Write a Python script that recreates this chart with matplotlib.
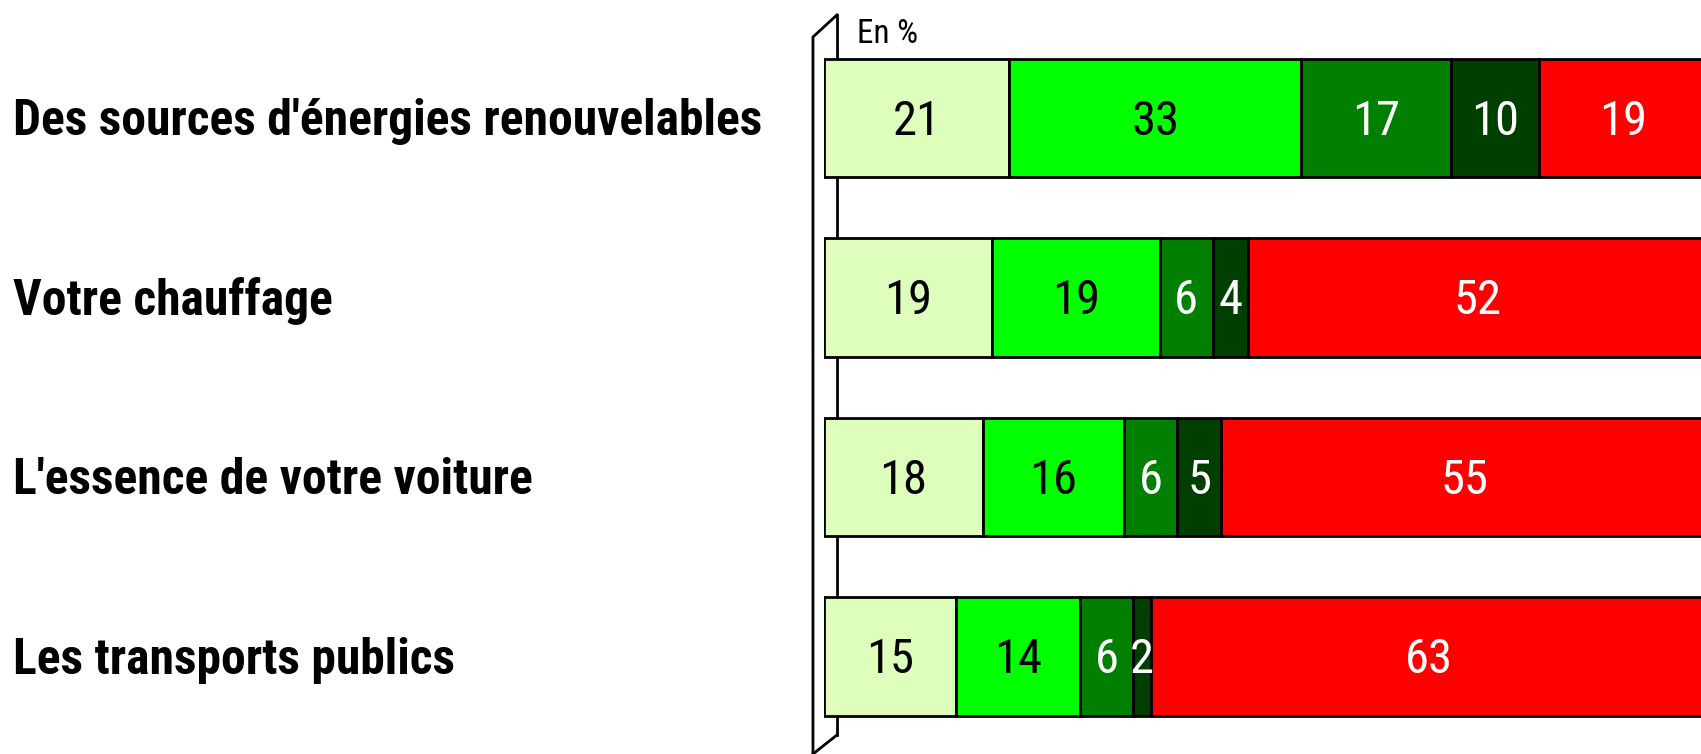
import matplotlib.pyplot as plt
from matplotlib import font_manager as fm
import matplotlib.transforms as mtransforms

names = {f.name for f in fm.fontManager.ttflist}
fam = next((n for n in ['Roboto Condensed', 'Archivo Narrow', 'PT Sans Narrow']
            if n in names), 'DejaVu Sans')
plt.rcParams['font.family'] = [fam, 'DejaVu Sans']

categories = ["Des sources d'énergies renouvelables", "Votre chauffage",
              "L'essence de votre voiture", "Les transports publics"]
s1 = [21, 19, 18, 15]
s2 = [33, 19, 16, 14]
s3 = [17, 6, 6, 6]
s4 = [10, 4, 5, 2]
s5 = [19, 52, 55, 63]
series = [s1, s2, s3, s4, s5]
colors = ['#DDFFBB', '#00FF00', '#007F00', '#003F00', '#FF0000']
text_colors = ['black', 'black', 'white', 'white', 'white']

fig = plt.figure(figsize=(17.01, 7.54), dpi=100)
ax = fig.add_axes([824/1701, 0, 883/1701, 1])
ax.set_xlim(0, 100)
ax.set_ylim(3.543, -0.657)
ax.axis('off')
renderer = fig.canvas.get_renderer()

y = list(range(len(categories)))
left = [0] * len(categories)
for vals, c, tc in zip(series, colors, text_colors):
    ax.barh(y, vals, left=left, height=0.66, color=c, edgecolor='black', lw=2, zorder=2)
    for i, v in enumerate(vals):
        ax.text(left[i] + v / 2, i + 0.02, str(v), ha='center', va='center',
                fontsize=35, color=tc, zorder=3)
    left = [l + v for l, v in zip(left, vals)]

# wall
ax.plot([1.47, 1.47], [-0.574, 3.437], color='black', lw=2, zorder=1, clip_on=False)
ax.plot([-1.25, -1.25, 1.47], [3.543, -0.451, -0.574], color='black', lw=2,
        zorder=1, clip_on=False)
ax.plot([-1.25, 1.47], [3.543, 3.437], color='black', lw=2, zorder=1, clip_on=False)

t = ax.text(3.7, -0.47, 'En %', fontsize=20, ha='left', va='center')
t.set_fontsize(20 * 61 / t.get_window_extent(renderer).width)

trans = mtransforms.blended_transform_factory(fig.transFigure, ax.transData)
lab = []
for i, cat in enumerate(categories):
    lab.append(ax.text(13/1701, i + 0.02, cat, transform=trans, ha='left', va='center',
                       fontsize=40, fontweight='bold'))
w0 = lab[0].get_window_extent(renderer).width
for t in lab:
    t.set_fontsize(40 * 750 / w0)

fig.savefig('out.png', dpi=100)
